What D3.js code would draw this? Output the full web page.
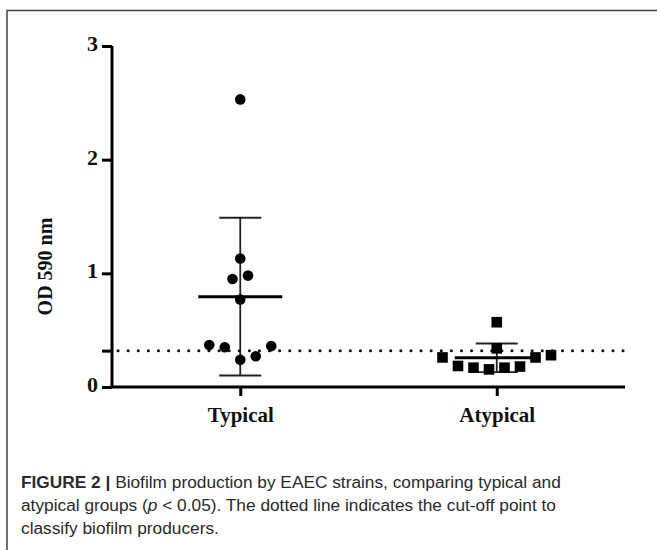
<!doctype html>
<html lang="en">
<head>
<meta charset="UTF-8">
<title>Figure 2</title>
<style>
    body { margin: 0; background: #fff; }
    #chart { display: block; }
    .serif { font-family: "Liberation Serif", "DejaVu Serif", serif; font-weight: bold; fill: #111; }
    .caption { font-family: "Liberation Sans", Arial, sans-serif; font-size: 17.3px; fill: #2a2a2a; }
</style>
</head>
<body>
<svg id="chart" width="657" height="550"></svg>

<script src="https://cdn.jsdelivr.net/npm/d3@7"></script>
<script>
    // values (OD 590 nm)
    var groups = ['Typical', 'Atypical']
    var typicalValues = [2.53, 1.13, 0.95, 0.98, 0.77, 0.37, 0.35, 0.36, 0.24, 0.27]
    var atypicalValues = [0.57, 0.34, 0.26, 0.185, 0.17, 0.155, 0.17, 0.18, 0.26, 0.28]
    var cutoff = 0.32
    var yTicks = [0, 1, 2, 3]

    var svg = d3.select('#chart')

    // figure frame
    svg.append('rect')
        .attr('x', 7).attr('y', 10.5)
        .attr('width', 670).attr('height', 600)
        .attr('fill', 'none')
        .attr('stroke', '#444')
        .attr('stroke-width', 1.5)

    var y = d3.scaleLinear().domain([0, 3]).range([387, 46])
    var x = d3.scalePoint().domain(groups).range([112, 625]).padding(0.5)
    var slotW = 15.5

    // GraphPad-like scatter: points that sit close in y share a row and are spread sideways
    function swarm(values) {
        var sorted = values.slice().sort(d3.ascending)
        var out = [], i = 0
        while (i < sorted.length) {
            var grp = [sorted[i]], j = i + 1
            while (j < sorted.length && sorted[j] - sorted[i] < 0.15) grp.push(sorted[j++])
            var n = grp.length
            grp.forEach(function(v, k) {
                var s
                if (n % 2) s = k === 0 ? 0 : (k % 2 ? 1 : -1) * Math.ceil(k / 2)
                else s = (k % 2 ? 1 : -1) * (Math.floor(k / 2) + 0.5)
                out.push({ v: v, slot: s })
            })
            i = j
        }
        return out
    }

    var series = [
        { name: 'Typical', values: typicalValues, shape: 'circle' },
        { name: 'Atypical', values: atypicalValues, shape: 'square' }
    ]

    // cut-off dotted line
    svg.append('line')
        .attr('x1', 118).attr('x2', 625)
        .attr('y1', y(cutoff)).attr('y2', y(cutoff))
        .attr('stroke', '#111')
        .attr('stroke-width', 3)
        .attr('stroke-linecap', 'round')
        .attr('stroke-dasharray', '0.1 10')

    series.forEach(function(s) {
        var cx = x(s.name)
        var mean = d3.mean(s.values), sd = d3.deviation(s.values)
        var g = svg.append('g')

        // SD whisker
        g.append('line').attr('x1', cx).attr('x2', cx)
            .attr('y1', y(mean + sd)).attr('y2', y(Math.max(mean - sd, 0)))
            .attr('stroke', '#222').attr('stroke-width', 1.8)
        ;[mean + sd, mean - sd].forEach(function(v) {
            if (v < 0) return
            g.append('line').attr('x1', cx - 21).attr('x2', cx + 21)
                .attr('y1', y(v)).attr('y2', y(v))
                .attr('stroke', '#222').attr('stroke-width', 1.8)
        })

        var pts = swarm(s.values)
        if (s.shape === 'circle') {
            g.selectAll('circle').data(pts).enter().append('circle')
                .attr('cx', function(d) { return cx + d.slot * slotW })
                .attr('cy', function(d) { return y(d.v) })
                .attr('r', 5.3)
                .attr('fill', '#000')
        } else {
            g.selectAll('rect').data(pts).enter().append('rect')
                .attr('x', function(d) { return cx + d.slot * slotW - 5.3 })
                .attr('y', function(d) { return y(d.v) - 5.3 })
                .attr('width', 10.6).attr('height', 10.6)
                .attr('fill', '#000')
        }

        // mean bar
        g.append('line').attr('x1', cx - 42).attr('x2', cx + 42)
            .attr('y1', y(mean)).attr('y2', y(mean))
            .attr('stroke', '#000').attr('stroke-width', 3)
    })

    // axes
    var yAxis = d3.axisLeft(y)
        .tickValues(yTicks.concat([cutoff]))
        .tickSize(10).tickPadding(4)
        .tickFormat(function(d) { return yTicks.indexOf(d) >= 0 ? d : '' })
    var gy = svg.append('g').attr('transform', 'translate(112,0)').call(yAxis)
    gy.select('.domain').attr('d', 'M0,' + y(3) + 'V' + y(0)).attr('stroke-width', 3)

    var xAxis = d3.axisBottom(x).tickSize(9).tickPadding(11)
    var gx = svg.append('g').attr('transform', 'translate(0,' + y(0) + ')').call(xAxis)
    gx.select('.domain').attr('d', 'M110.5,0H625').attr('stroke-width', 3)

    svg.selectAll('.tick line').attr('stroke', '#000').attr('stroke-width', 3)
    svg.selectAll('.tick text').attr('class', 'serif').style('font-size', '21px')
    gy.selectAll('.tick text').style('font-size', '22px').attr('dy', '0.2em')

    svg.append('text')
        .attr('class', 'serif')
        .attr('transform', 'translate(52,' + y(1.06) + ') rotate(-90)')
        .attr('text-anchor', 'middle')
        .style('font-size', '20px')
        .text('OD 590 nm')

    // caption
    var cap = svg.append('g').attr('class', 'caption')
    var l1 = cap.append('text').attr('x', 21).attr('y', 488)
    l1.append('tspan').style('font-weight', 'bold').text('FIGURE 2 | ')
    l1.append('tspan').text('Biofilm production by EAEC strains, comparing typical and')
    var l2 = cap.append('text').attr('x', 21).attr('y', 511)
    l2.append('tspan').text('atypical groups (')
    l2.append('tspan').style('font-style', 'italic').text('p')
    l2.append('tspan').text(' < 0.05). The dotted line indicates the cut-off point to')
    cap.append('text').attr('x', 21).attr('y', 534).text('classify biofilm producers.')
</script>
</body>
</html>
